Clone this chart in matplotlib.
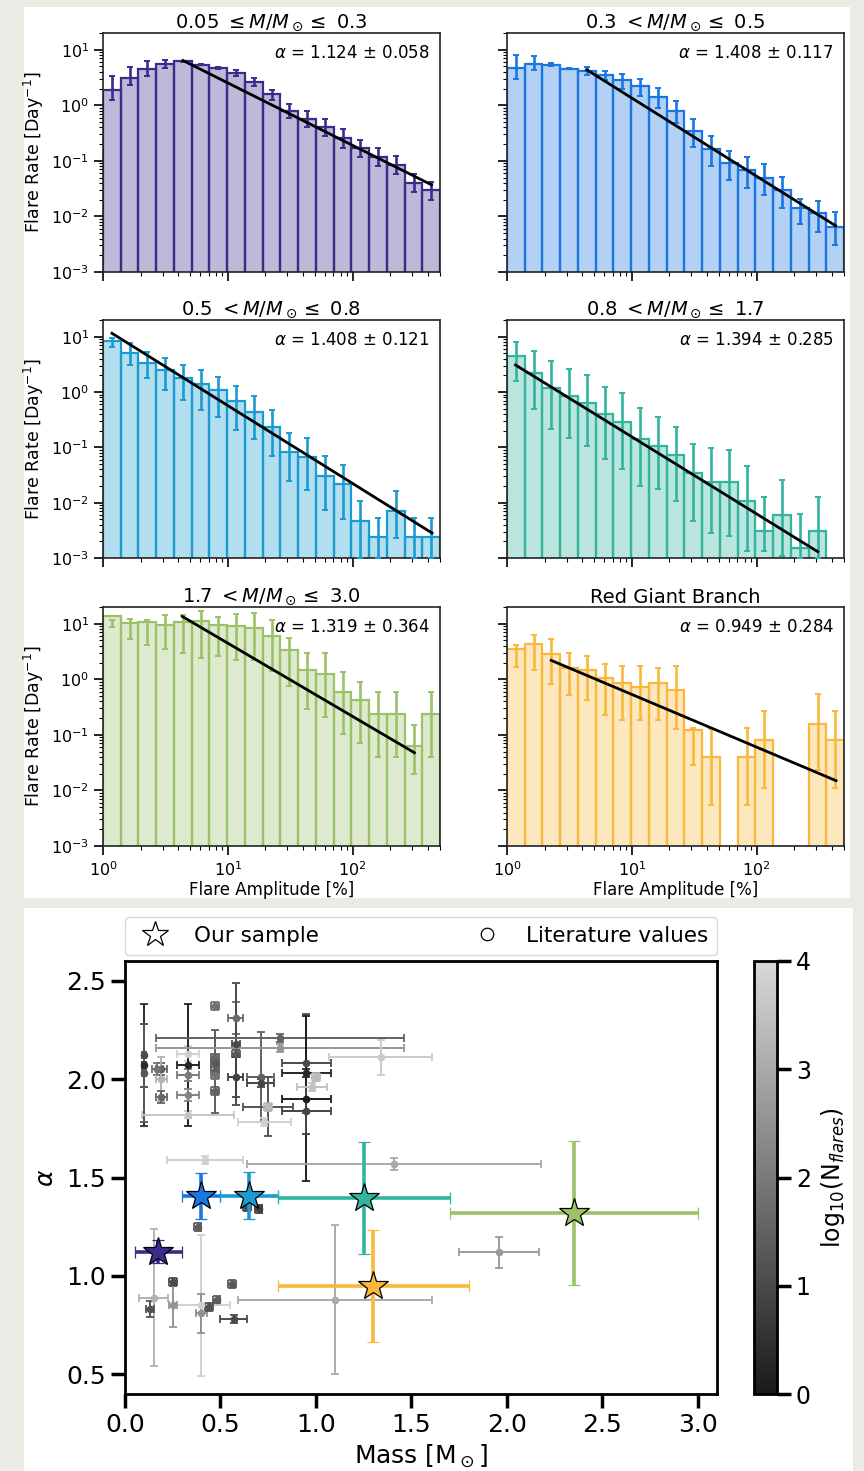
import numpy as np
import matplotlib
matplotlib.use('Agg')
import matplotlib.pyplot as plt
from matplotlib.colors import LinearSegmentedColormap, Normalize, to_rgba
from matplotlib.patches import Rectangle
from matplotlib.lines import Line2D
import matplotlib.cm as cm

# ---------------- data: flare frequency distributions ----------------
# amplitude bins [%], 19 log-spaced bins
bin_edges = np.logspace(0, 2.7, 20)

titles = [r'0.05 $\leq M/M_\odot \leq$ 0.3', r'0.3 $< M/M_\odot \leq$ 0.5',
          r'0.5 $< M/M_\odot \leq$ 0.8', r'0.8 $< M/M_\odot \leq$ 1.7',
          r'1.7 $< M/M_\odot \leq$ 3.0', 'Red Giant Branch']
colors = ['#3b2c8b', '#1976e3', '#1a9bd1', '#33b49f', '#9bc268', '#f9b83c']

alpha_fit = [1.124, 1.408, 1.408, 1.394, 1.319, 0.949]
alpha_err = [0.058, 0.117, 0.121, 0.285, 0.364, 0.284]

# fitted power law: start point (x0, y0) and end x1
fit_x0 = [4.37, 4.34, 1.18, 1.17, 4.32, 2.26]
fit_y0 = [6.4, 4.37, 11.5, 3.08, 13.5, 2.19]
fit_x1 = [427, 428, 432, 308, 312, 432]

# log10 flare rate [Day^-1] per bin, and log10 of error bar ends
lograte_1 = [0.281, 0.491, 0.647, 0.737, 0.79, 0.73, 0.67, 0.58, 0.425, 0.198, -0.10, -0.24, -0.395, -0.587, -0.76, -0.928, -1.07, -1.395, -1.527]
loghi_1 = [0.521, 0.689, 0.790, 0.808, 0.80, 0.74, 0.69, 0.64, 0.497, 0.28, 0.018, -0.108, -0.24, -0.42, -0.617, -0.766, -0.916, -1.228, -1.377]
loglo_1 = [0.102, 0.359, 0.521, 0.677, 0.78, 0.72, 0.65, 0.52, 0.341, 0.10, -0.222, -0.389, -0.557, -0.76, -0.928, -1.096, -1.24, -1.557, -1.707]

lograte_2 = [0.677, 0.749, 0.719, 0.659, 0.617, 0.539, 0.461, 0.341, 0.15, -0.108, -0.461, -0.79, -1.036, -1.156, -1.305, -1.527, -1.844, -1.946, -2.186]
loghi_2 = [0.910, 0.886, 0.766, 0.665, 0.689, 0.617, 0.557, 0.467, 0.311, 0.072, -0.251, -0.557, -0.82, -0.928, -1.06, -1.287, -1.689, -1.719, -1.928]
loglo_2 = [0.467, 0.629, 0.70, 0.655, 0.539, 0.449, 0.30, 0.162, -0.048, -0.311, -0.749, -1.09, -1.347, -1.485, -1.617, -1.856, -2.138, -2.287, -2.515]

lograte_3 = [0.922, 0.699, 0.531, 0.398, 0.260, 0.140, 0.038, -0.161, -0.353, -0.636, -1.087, -1.183, -1.514, -1.665, -2.327, -2.627, -2.158, -2.627, -2.627]
loghi_3 = [0.97, 0.88, 0.717, 0.609, 0.489, 0.398, 0.278, 0.116, -0.065, -0.323, -0.744, -0.834, -1.165, -1.315, -1.977, -2.278, -1.797, -2.278, -2.278]
loglo_3 = [0.82, 0.489, 0.248, 0.038, -0.143, -0.323, -0.456, -0.684, -0.847, -1.165, -1.617, -1.767, -2.128, -2.296, -3.0, -3.0, -2.639, -3.0, -3.0]

lograte_4 = [0.657, 0.350, 0.080, -0.065, -0.203, -0.395, -0.534, -0.847, -0.967, -1.147, -1.466, -1.635, -1.635, -1.977, -2.507, -2.218, -2.82, -2.507, None]
loghi_4 = [0.898, 0.747, 0.561, 0.411, 0.308, 0.098, -0.011, -0.281, -0.456, -0.624, -0.937, -1.015, -1.057, -1.346, -1.899, -1.599, -2.2, -1.899, None]
loglo_4 = [0.206, -0.306, -0.666, -0.835, -0.973, -1.208, -1.394, -1.707, -1.755, -1.977, -2.338, -2.549, -2.609, -2.88, -2.88, -2.97, -3.0, -3.0, None]

lograte_5 = [1.138, 1.018, 1.03, 0.97, 1.03, 1.048, 0.97, 0.952, 0.922, 0.778, 0.532, 0.172, 0.088, -0.229, -0.379, -0.631, -0.631, -1.207, -0.631]
loghi_5 = [1.072, 1.09, 1.072, 1.162, 1.162, 1.228, 1.12, 1.18, 1.192, 1.06, 0.742, 0.472, 0.472, 0.13, -0.05, -0.229, -0.229, -0.817, -0.229]
loglo_5 = [0.94, 0.73, 0.61, 0.55, 0.472, 0.388, 0.412, 0.352, 0.340, 0.148, -0.127, -0.529, -0.679, -0.991, -1.147, -1.399, -1.399, -1.699, -1.399]

lograte_6 = [0.55, 0.64, 0.448, 0.202, 0.160, 0.022, -0.062, -0.139, -0.062, -0.199, -0.919, -1.399, None, -1.399, -1.099, None, None, -0.799, -1.099]
loghi_6 = [0.61, 0.79, 0.718, 0.472, 0.418, 0.28, 0.238, 0.238, 0.202, 0.238, -0.871, -0.889, None, -0.871, -0.571, None, None, -0.271, -0.571]
loglo_6 = [0.22, 0.16, -0.079, -0.289, -0.379, -0.649, -0.727, -0.727, -0.727, -0.889, -1.549, -2.256, None, -2.256, -1.957, None, None, -1.639, -1.957]

logrates = [lograte_1, lograte_2, lograte_3, lograte_4, lograte_5, lograte_6]
loghis = [loghi_1, loghi_2, loghi_3, loghi_4, loghi_5, loghi_6]
loglos = [loglo_1, loglo_2, loglo_3, loglo_4, loglo_5, loglo_6]

# ---------------- data: alpha vs mass ----------------
star_mass = [0.175, 0.40, 0.65, 1.25, 2.35, 1.30]
star_mass_err = [0.125, 0.10, 0.15, 0.45, 0.65, 0.50]

lit_mass = [0.10, 0.10, 0.10,
            0.33, 0.19, 0.17, 0.19, 0.19,
            0.33, 0.33, 0.33, 0.33,
            0.47, 0.47, 0.47, 0.47, 0.47, 0.47,
            0.58, 0.58, 0.58, 0.58,
            0.71, 0.71, 0.75, 0.75, 0.73,
            0.81, 0.81,
            0.95, 0.95, 0.95, 0.95,
            1.00, 0.98, 1.34,
            0.42, 1.41,
            0.64, 0.70, 0.38,
            0.40, 0.15, 0.13, 0.25, 0.25, 0.40, 0.44, 0.48, 0.56, 0.57, 1.10, 1.96]
lit_mass_err = [0.01, 0.01, 0.01,
                0.24, 0.03, 0.03, 0.03, 0.03,
                0.06, 0.06, 0.06, 0.06,
                0.02, 0.02, 0.02, 0.02, 0.02, 0.02,
                0.04, 0.02, 0.02, 0.04,
                0.07, 0.07, 0.13, 0.02, 0.14,
                0.65, 0.65,
                0.13, 0.13, 0.13, 0.13,
                0.02, 0.08, 0.27,
                0.20, 0.77,
                0.02, 0.02, 0.02,
                0.15, 0.075, 0.02, 0.02, 0.02, 0.03, 0.02, 0.02, 0.02, 0.07, 0.51, 0.21]
lit_alpha = [2.12, 2.07, 2.03,
             1.82, 2.05, 2.05, 2.00, 1.91,
             2.13, 2.07, 2.02, 1.92,
             2.37, 2.04, 2.11, 2.08, 2.02, 1.94,
             2.31, 2.18, 2.13, 2.01,
             2.01, 1.98, 1.86, 1.86, 1.78,
             2.21, 2.16,
             2.08, 2.03, 1.90, 1.84,
             2.01, 1.96, 2.11,
             1.59, 1.57,
             1.35, 1.34, 1.25,
             0.85, 0.89, 0.83, 0.97, 0.85, 0.81, 0.84, 0.88, 0.96, 0.78, 0.88, 1.12]
lit_alpha_err = [0.16, 0.31, 0.25,
                 0.02, 0.03, 0.03, 0.11, 0.03,
                 0.04, 0.31, 0.03, 0.03,
                 0.02, 0.21, 0.02, 0.02, 0.02, 0.02,
                 0.08, 0.31, 0.02, 0.10,
                 0.23, 0.02, 0.15, 0.02, 0.02,
                 0.02, 0.02,
                 0.25, 0.02, 0.42, 0.12,
                 0.02, 0.02, 0.09,
                 0.02, 0.03,
                 0.02, 0.02, 0.02,
                 0.36, 0.35, 0.04, 0.02, 0.11, 0.10, 0.02, 0.02, 0.02, 0.02, 0.38, 0.08]
lit_logN = [1.0, 0.4, 1.3,
            3.6, 1.5, 1.9, 3.2, 1.6,
            3.8, 0.2, 2.0, 2.2,
            1.8, 1.4, 1.6, 1.3, 1.9, 1.5,
            1.7, 1.0, 1.3, 0.8,
            1.5, 0.9, 1.2, 3.4, 3.8,
            1.5, 2.6,
            1.0, 0.3, 0.1, 0.9,
            3.3, 3.5, 3.7,
            3.8, 3.0,
            0.9, 0.8, 1.4,
            3.8, 3.2, 1.2, 1.0, 2.6, 2.5, 1.2, 1.4, 1.3, 1.0, 3.0, 2.7]

# ---------------- figure ----------------
W, H = 864, 1471
fig = plt.figure(figsize=(W / 100, H / 100), dpi=100, facecolor='#ebebe6')


def px_rect(x0, y0, x1, y1):
    # pixel box (top-left origin) -> figure fraction [l, b, w, h]
    return [x0 / W, 1 - y1 / H, (x1 - x0) / W, (y1 - y0) / H]


# white backing panels
for box in [(24, 7, 850, 898), (24, 908, 853, H + 2)]:
    l, b, w, h = px_rect(*box)
    fig.add_artist(Rectangle((l, b), w, h, transform=fig.transFigure,
                             facecolor='white', edgecolor='none', zorder=-1))

col_x = [(103, 440), (507, 844)]
row_y = [(33, 272), (320, 558), (607, 846)]

centers = np.sqrt(bin_edges[:-1] * bin_edges[1:])
widths = np.diff(bin_edges)

for i in range(6):
    r, c = divmod(i, 2)
    ax = fig.add_axes(px_rect(col_x[c][0], row_y[r][0], col_x[c][1], row_y[r][1]))
    ax.set_xscale('log')
    ax.set_yscale('log')
    col = colors[i]

    h = 10 ** np.array(logrates[i], dtype=float)
    ok = ~np.isnan(h)
    ax.bar(bin_edges[:-1][ok], h[ok] - 1e-5, width=widths[ok], bottom=1e-5, align='edge',
           facecolor=to_rgba(col, 0.33), edgecolor=col, linewidth=1.6, zorder=2)

    lo = np.array(loglos[i], dtype=float)
    hi = np.array(loghis[i], dtype=float)
    ok = ~np.isnan(lo)
    yc = 10 ** ((lo + hi) / 2)
    ax.errorbar(centers[ok], yc[ok], yerr=[yc[ok] - 10 ** lo[ok], 10 ** hi[ok] - yc[ok]],
                fmt='none', ecolor=col, elinewidth=1.9, capsize=2.5, capthick=1.4, zorder=3)

    xf = np.array([fit_x0[i], fit_x1[i]])
    yf = fit_y0[i] * (xf / fit_x0[i]) ** (-alpha_fit[i])
    ax.plot(xf, yf, color='k', lw=2, zorder=4)

    ax.text(0.97, 0.955, r'$\alpha$ = %.3f $\pm$ %.3f' % (alpha_fit[i], alpha_err[i]),
            transform=ax.transAxes, ha='right', va='top', fontsize=12)
    ax.set_title(titles[i], fontsize=14, pad=3)

    ax.set_xlim(1, 500)
    ax.set_ylim(1e-3, 20)
    ax.set_yticks([1e-3, 1e-2, 1e-1, 1e0, 1e1])
    ax.tick_params(which='major', length=6.5, width=1.2, labelsize=11.5)
    ax.tick_params(which='minor', length=3, width=0.8)
    for s in ax.spines.values():
        s.set_linewidth(1.2)
        s.set_color('#222222')

    if c == 0:
        ax.set_ylabel(r'Flare Rate [Day$^{-1}$]', fontsize=12.5)
    else:
        ax.tick_params(axis='y', which='both', labelleft=False)
    if r == 2:
        ax.set_xlabel('Flare Amplitude [%]', fontsize=12, labelpad=2)
    else:
        ax.tick_params(axis='x', which='both', labelbottom=False)

# ---------------- alpha vs mass panel ----------------
cmap = LinearSegmentedColormap.from_list('greys_cut', [(0.1, 0.1, 0.1), (0.85, 0.85, 0.85)])
norm = Normalize(0, 4)

ax = fig.add_axes(px_rect(125, 961, 717, 1394))
for m, me, a, ae, n in zip(lit_mass, lit_mass_err, lit_alpha, lit_alpha_err, lit_logN):
    g = cmap(norm(n))
    ax.errorbar(m, a, xerr=me, yerr=ae, fmt='o', color=g, ms=4.5, elinewidth=1.4,
                capsize=3, capthick=1.3, zorder=2)

for m, me, a, ae, col in zip(star_mass, star_mass_err, alpha_fit, alpha_err, colors):
    ax.errorbar(m, a, xerr=me, yerr=ae, fmt='*', color=col, ms=22, mec='k', mew=0.9,
                elinewidth=2.6, capsize=4, capthick=2.6, zorder=4)

ax.set_xlim(0, 3.1)
ax.set_ylim(0.4, 2.6)
ax.set_xticks([0.0, 0.5, 1.0, 1.5, 2.0, 2.5, 3.0])
ax.set_yticks([0.5, 1.0, 1.5, 2.0, 2.5])
ax.tick_params(length=10, width=2.5, labelsize=18)
for s in ax.spines.values():
    s.set_linewidth(2)
ax.set_xlabel(r'Mass [M$_\odot$]', fontsize=18, labelpad=4)
ax.set_ylabel(r'$\alpha$', fontsize=18, labelpad=6)

handles = [Line2D([], [], ls='none', marker='*', ms=19, mfc='none', mec='k', mew=0.9),
           Line2D([], [], ls='none', marker='o', ms=9, mfc='none', mec='k', mew=0.9)]
ax.legend(handles, ['Our sample', 'Literature values'], loc='lower left',
          bbox_to_anchor=(0, 1.015, 1, 0.08), mode='expand', ncol=2, fontsize=15.5,
          handletextpad=0.8, borderaxespad=0)

# colorbar
cax = fig.add_axes(px_rect(754, 961, 777, 1394))
sm = cm.ScalarMappable(norm=norm, cmap=cmap)
cb = fig.colorbar(sm, cax=cax, ticks=[0, 1, 2, 3, 4])
cb.outline.set_linewidth(2)
cax.tick_params(length=10, width=2.5, labelsize=17)
cb.set_label(r'log$_{10}$(N$_{flares}$)', fontsize=17, labelpad=6)

fig.savefig('out.png', dpi=100, facecolor=fig.get_facecolor())
